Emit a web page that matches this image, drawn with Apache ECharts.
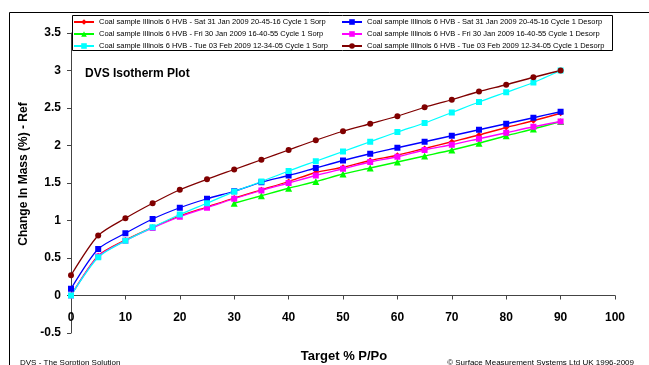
<!DOCTYPE html>
<html lang="en">
<head>
    <meta charset="utf-8">
    <title>DVS Isotherm Plot</title>
    <script src="https://cdn.jsdelivr.net/npm/echarts@6/dist/echarts.min.js"></script>
</head>
<body style="margin:0; background:#fff;">
<div id="main" style="width: 649px; height: 365px;"></div>
<script type="text/javascript">
    // target % P/Po
    const targets = [0, 5, 10, 15, 20, 25, 30, 35, 40, 45, 50, 55, 60, 65, 70, 75, 80, 85, 90];

    const satSorp   = [0.00, 0.53, 0.74, 0.91, 1.06, 1.18, 1.30, 1.41, 1.52, 1.64, 1.71, 1.80, 1.87, 1.96, 2.05, 2.14, 2.24, 2.33, 2.43];
    const satDesorp = [0.09, 0.62, 0.83, 1.02, 1.17, 1.29, 1.39, 1.51, 1.60, 1.70, 1.80, 1.89, 1.97, 2.05, 2.13, 2.21, 2.29, 2.37, 2.45];
    const friSorp   = [null, null, null, null, null, null, 1.23, 1.33, 1.43, 1.52, 1.62, 1.70, 1.78, 1.86, 1.94, 2.03, 2.13, 2.22, 2.32];
    const friDesorp = [0.00, 0.52, 0.73, 0.90, 1.05, 1.17, 1.29, 1.40, 1.50, 1.60, 1.69, 1.78, 1.85, 1.94, 2.01, 2.09, 2.17, 2.25, 2.32];
    const tueSorp   = [0.00, 0.51, 0.73, 0.91, 1.08, 1.23, 1.385, 1.52, 1.66, 1.79, 1.92, 2.05, 2.18, 2.30, 2.44, 2.58, 2.71, 2.84, 3.00];
    const tueDesorp = [0.27, 0.80, 1.03, 1.23, 1.41, 1.55, 1.68, 1.81, 1.94, 2.07, 2.19, 2.29, 2.39, 2.51, 2.61, 2.72, 2.81, 2.91, 3.00];

    const names = [
        'Coal sample Illinois 6 HVB - Sat 31 Jan 2009 20-45-16 Cycle 1 Sorp',
        'Coal sample Illinois 6 HVB - Sat 31 Jan 2009 20-45-16 Cycle 1 Desorp',
        'Coal sample Illinois 6 HVB - Fri 30 Jan 2009 16-40-55 Cycle 1 Sorp',
        'Coal sample Illinois 6 HVB - Fri 30 Jan 2009 16-40-55 Cycle 1 Desorp',
        'Coal sample Illinois 6 HVB - Tue 03 Feb 2009 12-34-05 Cycle 1 Sorp',
        'Coal sample Illinois 6 HVB - Tue 03 Feb 2009 12-34-05 Cycle 1 Desorp'
    ];
    const values = [satSorp, satDesorp, friSorp, friDesorp, tueSorp, tueDesorp];
    const colors = ['#ff0000', '#0000ff', '#00ff00', '#ff00ff', '#00ffff', '#800000'];
    const symbols = ['diamond', 'rect', 'triangle', 'rect', 'rect', 'circle'];
    const symbolSizes = [6, 6, 7, 6, 6, 6];

    function pairs(arr){
        return targets.map((x, i) => [x, arr[i]]);
    }

    const series = values.map((arr, i) => ({
        name: names[i],
        type: 'line',
        data: pairs(arr),
        smooth: 0.25,
        connectNulls: false,
        symbol: symbols[i],
        symbolSize: symbolSizes[i],
        showAllSymbol: true,
        lineStyle: { color: colors[i], width: 1.3 },
        itemStyle: { color: colors[i] }
    }));

    const legendText = { fontFamily: 'Arial', fontSize: 7.5, color: '#000', lineHeight: 8 };

    const myChart = echarts.init(document.getElementById('main'));
    const option = {
        animation: false,
        color: colors,
        textStyle: { fontFamily: 'Arial' },
        grid: { left: 71, right: 34, top: 33, bottom: 32, containLabel: false },
        legend: [{
            orient: 'vertical',
            left: 73, top: 18,
            padding: 0,
            itemWidth: 20, itemHeight: 7, itemGap: 4,
            textStyle: legendText,
            data: [names[0], names[2], names[4]]
        }, {
            orient: 'vertical',
            left: 341, top: 18,
            padding: 0,
            itemWidth: 20, itemHeight: 7, itemGap: 4,
            textStyle: legendText,
            data: [names[1], names[3], names[5]]
        }],
        xAxis: {
            type: 'value',
            min: 0, max: 100, interval: 10,
            axisLine: { show: true, onZero: true, lineStyle: { color: '#444', width: 1 } },
            axisTick: { show: true, length: 4, lineStyle: { color: '#444' } },
            // labels sit just under the zero line, as in the original
            axisLabel: { margin: -21, fontSize: 12, fontWeight: 'bold', color: '#000', fontFamily: 'Arial' },
            splitLine: { show: false }
        },
        yAxis: {
            type: 'value',
            min: -0.5, max: 3.5, interval: 0.5,
            axisLine: { show: true, lineStyle: { color: '#444', width: 1 } },
            axisTick: { show: true, length: 4, lineStyle: { color: '#444' } },
            axisLabel: { margin: 10, fontSize: 12, fontWeight: 'bold', color: '#000', fontFamily: 'Arial' },
            splitLine: { show: false }
        },
        graphic: [
            { type: 'rect', shape: { x: 9.5, y: 12.5, width: 700, height: 400 },
              style: { fill: 'none', stroke: '#000', lineWidth: 1 }, silent: true, z: -10 },
            { type: 'rect', shape: { x: 72.5, y: 15.5, width: 540, height: 35 },
              style: { fill: 'none', stroke: '#000', lineWidth: 1 }, silent: true },
            { type: 'text', left: 85, top: 68,
              style: { text: 'DVS Isotherm Plot', fontFamily: 'Arial', fontSize: 12, fontWeight: 'bold', fill: '#000' } },
            { type: 'text', x: 24, y: 174, rotation: Math.PI / 2,
              style: { text: 'Change In Mass (%) - Ref', fontFamily: 'Arial', fontSize: 12, fontWeight: 'bold', fill: '#000',
                       align: 'center', verticalAlign: 'middle' } },
            { type: 'text', x: 344, y: 356,
              style: { text: 'Target % P/Po', fontFamily: 'Arial', fontSize: 13, fontWeight: 'bold', fill: '#000',
                       align: 'center', verticalAlign: 'middle' } },
            { type: 'text', x: 20, y: 363,
              style: { text: 'DVS - The Sorption Solution', fontFamily: 'Arial', fontSize: 8, fill: '#000',
                       align: 'left', verticalAlign: 'middle' } },
            { type: 'text', x: 634, y: 363,
              style: { text: '\u00a9 Surface Measurement Systems Ltd UK 1996-2009', fontFamily: 'Arial', fontSize: 8, fill: '#000',
                       align: 'right', verticalAlign: 'middle' } }
        ],
        series: series
    };
    myChart.setOption(option);
</script>
</body>
</html>
